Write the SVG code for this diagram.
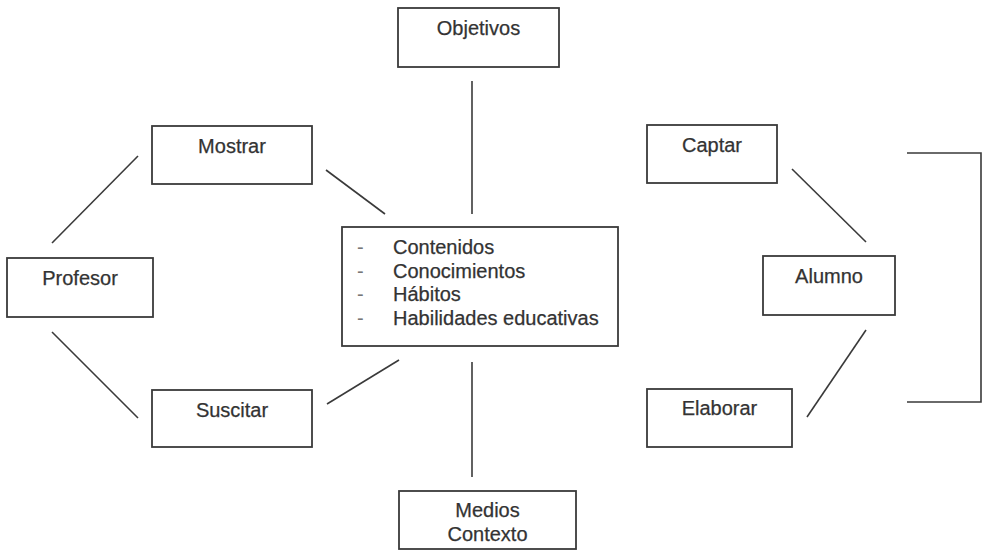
<svg xmlns="http://www.w3.org/2000/svg" width="982" height="550" viewBox="0 0 982 550">
  <style>
    .box { fill: #ffffff; stroke: #3a3a3a; stroke-width: 1.8; }
    .lbl { font-family: "Liberation Sans", Arial, sans-serif; font-size: 20px; fill: #333333; stroke: #333333; stroke-width: 0.25; text-anchor: middle; }
    .item { font-family: "Liberation Sans", Arial, sans-serif; font-size: 20px; fill: #333333; stroke: #333333; stroke-width: 0.25; }
    .dash { font-family: "Liberation Sans", Arial, sans-serif; font-size: 20px; fill: #777777; }
    .conn line, .conn polyline { stroke: #3a3a3a; stroke-width: 1.6; fill: none; }
  </style>
  <rect width="982" height="550" fill="#ffffff"/>

  <!-- connectors -->
  <g id="connectors" class="conn">
    <line x1="472" y1="81" x2="472" y2="214"/>
    <line x1="472" y1="362" x2="472" y2="477"/>
    <line x1="138" y1="156" x2="52" y2="243"/>
    <line x1="52" y1="332" x2="138" y2="418"/>
    <line x1="326" y1="170" x2="385" y2="214"/>
    <line x1="327" y1="404" x2="399" y2="360"/>
    <line x1="792" y1="169" x2="866" y2="242"/>
    <line x1="866" y1="330" x2="807" y2="417"/>
    <polyline points="907,153 981,153 981,402 907,402"/>
  </g>

  <g id="objetivos">
    <rect class="box" x="398" y="8" width="161" height="59"/>
    <text class="lbl" x="478.5" y="35">Objetivos</text>
  </g>

  <g id="mostrar">
    <rect class="box" x="152" y="126" width="160" height="58"/>
    <text class="lbl" x="232" y="153">Mostrar</text>
  </g>

  <g id="profesor">
    <rect class="box" x="7" y="258" width="146" height="59"/>
    <text class="lbl" x="80" y="285">Profesor</text>
  </g>

  <g id="suscitar">
    <rect class="box" x="152" y="390" width="160" height="57"/>
    <text class="lbl" x="232" y="417">Suscitar</text>
  </g>

  <g id="contenidos">
    <rect class="box" x="342" y="227" width="276" height="119"/>
    <text class="dash" x="357" y="254">-</text>
    <text class="dash" x="357" y="277.5">-</text>
    <text class="dash" x="357" y="301">-</text>
    <text class="dash" x="357" y="324.5">-</text>
    <text class="item" x="393" y="254">Contenidos</text>
    <text class="item" x="393" y="277.5">Conocimientos</text>
    <text class="item" x="393" y="301">Hábitos</text>
    <text class="item" x="393" y="324.5">Habilidades educativas</text>
  </g>

  <g id="medios">
    <rect class="box" x="399" y="491" width="177" height="58"/>
    <text class="lbl" x="487.5" y="517">Medios</text>
    <text class="lbl" x="487.5" y="541">Contexto</text>
  </g>

  <g id="captar">
    <rect class="box" x="647" y="125" width="130" height="58"/>
    <text class="lbl" x="712" y="152">Captar</text>
  </g>

  <g id="alumno">
    <rect class="box" x="763" y="256" width="132" height="59"/>
    <text class="lbl" x="829" y="283">Alumno</text>
  </g>

  <g id="elaborar">
    <rect class="box" x="647" y="389" width="145" height="58"/>
    <text class="lbl" x="719.5" y="415">Elaborar</text>
  </g>
</svg>
